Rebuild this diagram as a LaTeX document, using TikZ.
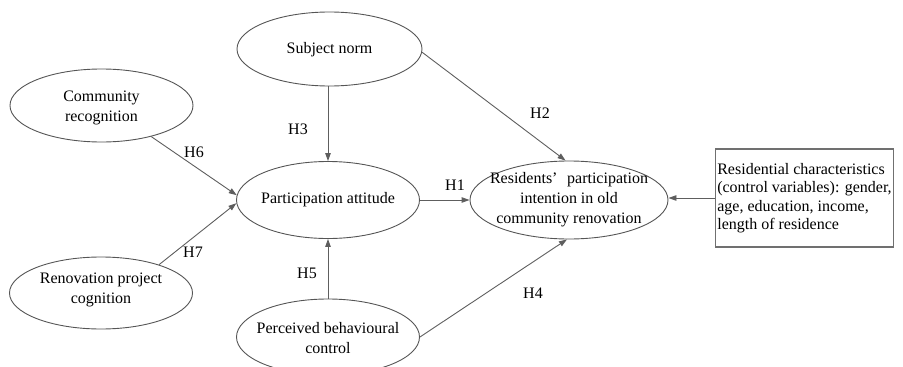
\documentclass[tikz,border=0pt]{standalone}
\usepackage{fontspec}
\setmainfont{Liberation Serif}
\usetikzlibrary{shapes.geometric,arrows.meta}
\definecolor{edge}{HTML}{555555}
\definecolor{lineg}{HTML}{5E5E5E}
\definecolor{boxg}{HTML}{707070}
\tikzset{
  ell/.style args={#1 and #2}{ellipse, draw=edge, line width=0.9pt, inner sep=0pt,
    minimum width=#1pt, minimum height=#2pt},
  txt/.style={align=center, inner sep=0pt, font=\fontsize{16}{20}\selectfont},
  hlab/.style={inner sep=0pt, font=\fontsize{16}{20}\selectfont},
  arr/.style={draw=lineg, line width=0.9pt, -{Triangle[length=8pt,width=5.5pt]}},
  ctrlbox/.style={draw=boxg, line width=1.3pt, minimum width=177pt, minimum height=98pt,
    inner xsep=2pt, align=left, font=\fontsize{16}{18.5}\selectfont}
}
\begin{document}
\begin{tikzpicture}[x=1pt,y=-1pt]
\useasboundingbox (0,0) rectangle (903,367);
% ellipses
\node[ell=183 and 73] (cr) at (101.5,105.5) {};
\node[txt] (crt) at (101.5,108) {Community\\recognition};
\node[ell=185 and 74] (sn) at (329.5,49) {};
\node[txt] (snt) at (329.5,50) {Subject norm};
\node[ell=183 and 77] (pa) at (328,200) {};
\node[txt] (pat) at (328,200) {Participation attitude};
\node[ell=198 and 78] (ri) at (569,200) {};
\node[txt] (rit) at (569,200) {Residents’\hspace{0.6em}participation\\intention in old\\community renovation};
\node[ell=183 and 72] (rp) at (101,293) {};
\node[txt] (rpt) at (101,290) {Renovation project\\cognition};
\node[ell=183 and 76] (pbc) at (328,337) {};
\node[txt] (pbct) at (328,338) {Perceived behavioural\\control};
% box
\node[ctrlbox] (box) at (804.5,198) {Residential characteristics\\(control variables): gender,\\age, education, income,\\length of residence};
% connectors
\draw[arr] (cr.-32) -- (pa.177);
\draw[arr] (rp.26) -- (pa.182);
\draw[arr] (sn.south -| pa.north) -- (pa.north);
\draw[arr] (pbc.north) -- (pa.south);
\draw[arr] (pa.east) -- (ri.west);
\draw[arr] (sn.-2) -- (ri.95);
\draw[arr] (pbc.east) -- (ri.-93);
\draw[arr] (box.west) -- (box.west -| ri.east);
% labels
\node[hlab] (h1) at (455,185) {H1};
\node[hlab] (h2) at (540,113) {H2};
\node[hlab] (h3) at (298,129) {H3};
\node[hlab] (h4) at (533,293) {H4};
\node[hlab] (h5) at (307,273) {H5};
\node[hlab] (h6) at (194,152) {H6};
\node[hlab] (h7) at (193,252) {H7};
\end{tikzpicture}
\end{document}
